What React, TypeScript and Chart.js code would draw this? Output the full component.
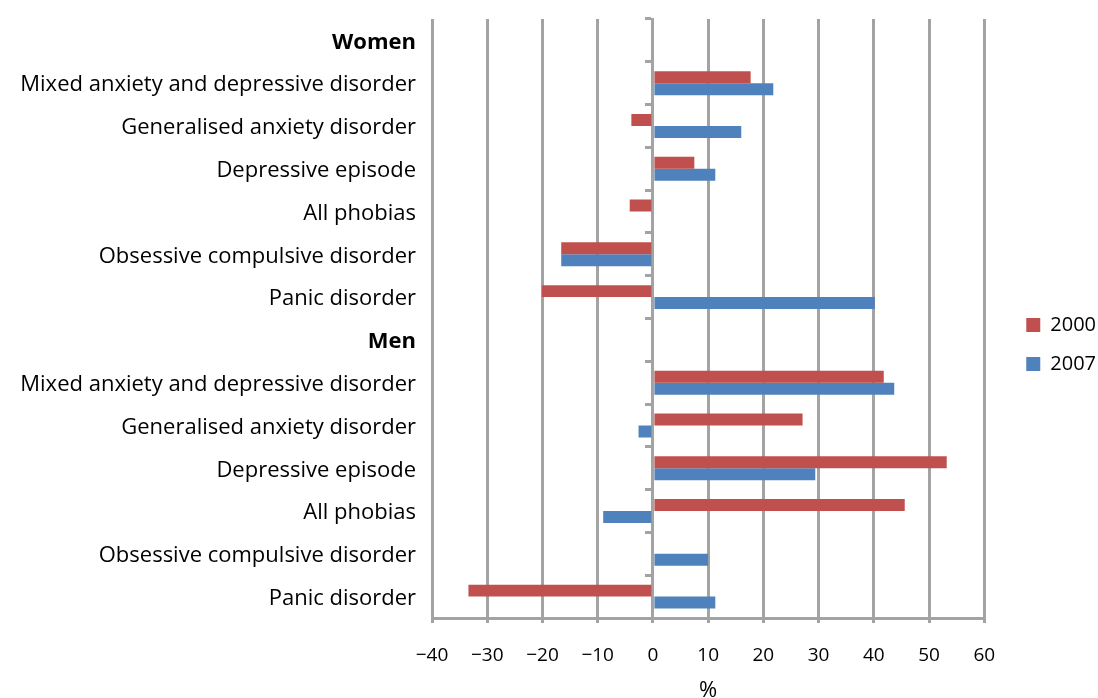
import { useEffect, useRef } from 'react';
import { Chart, registerables } from 'chart.js';

Chart.register(...registerables);

// Row labels (top to bottom); "Women" and "Men" are group headings
const categories = [
  'Women',
  'Mixed anxiety and depressive disorder',
  'Generalised anxiety disorder',
  'Depressive episode',
  'All phobias',
  'Obsessive compulsive disorder',
  'Panic disorder',
  'Men',
  'Mixed anxiety and depressive disorder',
  'Generalised anxiety disorder',
  'Depressive episode',
  'All phobias',
  'Obsessive compulsive disorder',
  'Panic disorder',
];
const headingRows = ['Women', 'Men'];

const seriesNames = ['2000', '2007'];
const change2000 = [null, 17.7, -3.9, 7.5, -4.2, -16.6, -20.1, null, 41.8, 27.1, 53.2, 45.6, null, -33.4];
const change2007 = [null, 21.8, 16.0, 11.3, null, -16.6, 40.2, null, 43.7, -2.6, 29.4, -9.0, 10.0, 11.3];

const xMin = -40;
const xMax = 60;
const xStep = 10;
const xTitle = '%';

const RED = '#C0504D';
const BLUE = '#4F81BD';
const GRID = '#a3a3a3';
const FONT = '"Open Sans", "Noto Sans", sans-serif';

export default function App() {
  const canvasRef = useRef<HTMLCanvasElement | null>(null);

  useEffect(() => {
    const canvas = canvasRef.current;
    if (!canvas) return;
    const chart = new Chart(canvas, {
      type: 'bar',
      data: {
        labels: categories,
        datasets: [
          { label: seriesNames[0], data: change2000, backgroundColor: RED, borderWidth: 0 },
          { label: seriesNames[1], data: change2007, backgroundColor: BLUE, borderWidth: 0 },
        ],
      },
      options: {
        indexAxis: 'y',
        responsive: false,
        animation: false,
        datasets: { bar: { categoryPercentage: 0.56, barPercentage: 1 } },
        layout: { padding: { left: 0, top: 19, right: -8, bottom: 28 } },
        font: { family: FONT, size: 19 },
        color: '#000',
        plugins: {
          tooltip: { enabled: false },
          legend: {
            position: 'right',
            labels: {
              boxWidth: 14,
              boxHeight: 14,
              padding: 19,
              color: '#000',
              font: { family: FONT, size: 20, lineHeight: 1.1 },
            },
          },
        },
        scales: {
          x: {
            type: 'linear',
            min: xMin,
            max: xMax,
            z: 0,
            ticks: {
              stepSize: xStep,
              padding: 21,
              color: '#000',
              font: { family: FONT, size: 19 },
              callback: (v: any) => (Number(v) < 0 ? '\u2212' + Math.abs(Number(v)) : String(v)),
            },
            grid: { color: GRID, lineWidth: 3, tickLength: 5 },
            border: { display: true, color: GRID, width: 3 },
            title: {
              display: true,
              text: xTitle,
              color: '#000',
              font: { family: FONT, size: 22 },
              padding: { top: 0, bottom: -34 },
            },
            afterFit: (s: any) => {
              s.height = 52;
            },
          },
          y: {
            type: 'category',
            position: 'left',
            offset: true,
            grid: { display: false, drawTicks: false },
            border: { display: false },
            ticks: {
              autoSkip: false,
              padding: 16,
              labelOffset: 2,
              color: '#000',
              font: (ctx: any) => ({
                family: FONT,
                size: 22,
                weight: headingRows.includes(categories[ctx.index]) ? 'bold' : 'normal',
              }),
            },
            afterFit: (s: any) => {
              s.width = 432;
              s.paddingTop = 0;
              s.paddingBottom = 0;
            },
          },
          // zero line with category separators, drawn above the bars
          yZero: {
            type: 'category',
            axis: 'y',
            position: { x: 0 },
            offset: true,
            z: 1,
            ticks: { display: false },
            grid: {
              offset: true,
              drawOnChartArea: false,
              drawTicks: true,
              tickLength: 6,
              color: GRID,
              lineWidth: 3,
            },
            border: { display: true, color: GRID, width: 3 },
          },
          // spacer between plot and legend
          gap: {
            type: 'linear',
            axis: 'y',
            position: 'right',
            ticks: { display: false },
            grid: { display: false },
            border: { display: false },
            afterFit: (s: any) => {
              s.width = 23;
            },
          },
        },
      } as any,
    });
    return () => chart.destroy();
  }, []);

  return (
    <canvas
      ref={canvasRef}
      width={1098}
      height={698}
      style={{ position: 'fixed', left: 0, top: 0, display: 'block' }}
    />
  );
}
